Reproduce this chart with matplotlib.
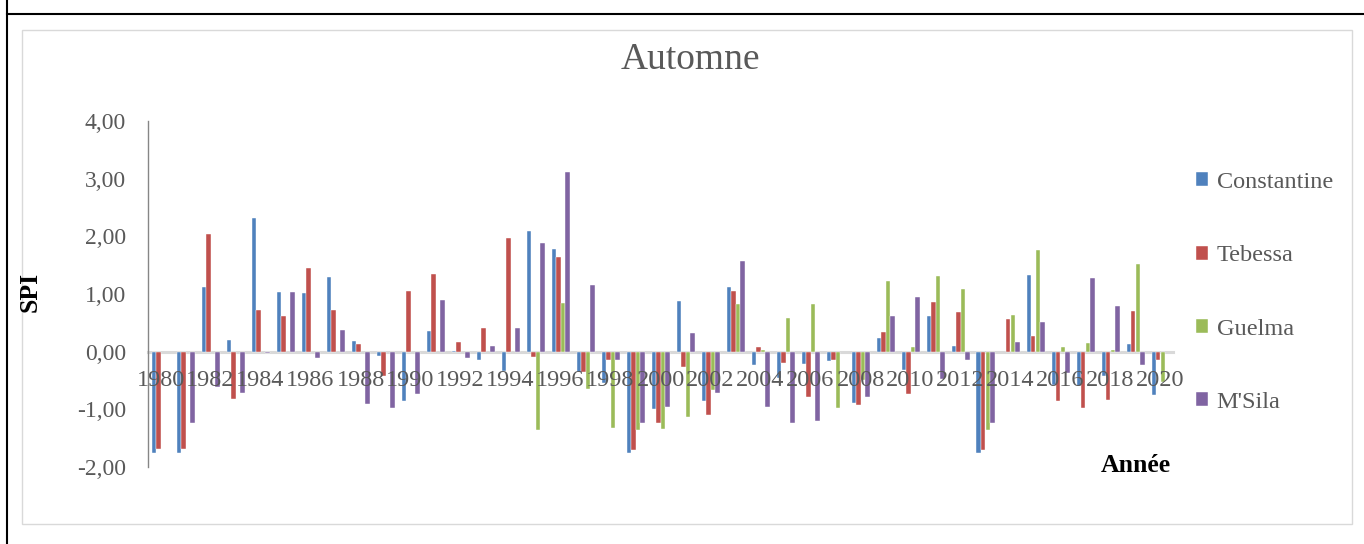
import numpy as np
import matplotlib
matplotlib.use("Agg")
import matplotlib.pyplot as plt
from matplotlib.patches import Rectangle
from matplotlib.lines import Line2D

nan = np.nan
years = list(range(1980, 2021))

constantine = [-1.75, -1.75, 1.13, 0.21, 2.32, 1.04, 1.01, 1.30, 0.19, -0.08,
               -0.85, 0.35, 0.02, -0.14, -0.34, 2.10, 1.78, -0.36, -0.54, -1.76,
               -1.00, 0.87, -0.85, 1.13, -0.23, -0.45, -0.21, -0.17, -0.89, 0.23,
               -0.32, 0.61, 0.10, -1.76, nan, 1.33, -0.57, -0.60, -0.43, 0.14,
               -0.76]
tebessa = [-1.69, -1.69, 2.04, -0.82, 0.72, 0.61, 1.45, 0.72, 0.14, -0.42,
           1.05, 1.34, 0.17, 0.41, 1.97, -0.10, 1.65, -0.36, -0.15, -1.70,
           -1.24, -0.27, -1.09, 1.06, 0.08, -0.20, -0.79, -0.15, -0.92, 0.34,
           -0.74, 0.86, 0.68, -1.70, 0.57, 0.28, -0.85, -0.98, -0.83, 0.71,
           -0.14]
guelma = [nan, nan, nan, nan, nan, nan, nan, nan, nan, nan,
          nan, nan, nan, nan, nan, -1.35, 0.85, -0.65, -1.32, -1.35,
          -1.34, -1.14, -0.66, 0.83, 0.03, 0.58, 0.83, -0.97, -0.49, 1.23,
          0.08, 1.32, 1.09, -1.36, 0.64, 1.77, 0.08, 0.15, 0.03, 1.52,
          -0.52]
msila = [nan, -1.24, -0.61, -0.71, -0.02, 1.04, -0.11, 0.38, -0.91, -0.98,
         -0.74, 0.89, -0.11, 0.09, 0.41, 1.89, 3.11, 1.15, -0.14, -1.24,
         -0.96, 0.32, -0.72, 1.58, -0.96, -1.24, -1.21, nan, -0.79, 0.62,
         0.95, -0.47, -0.14, -1.24, 0.17, 0.51, -0.37, 1.27, 0.79, -0.23,
         nan]

series_names = ["Constantine", "Tebessa", "Guelma", "M'Sila"]
series_values = [constantine, tebessa, guelma, msila]
colors = ["#4F81BD", "#C0504D", "#9BBB59", "#8064A2"]

yticks = [-2, -1, 0, 1, 2, 3, 4]

W, H = 1364, 544
fig = plt.figure(figsize=(W / 100, H / 100), dpi=100)
serif = ["Liberation Serif", "DejaVu Serif"]
gray = "#595959"

# Frame decorations
fig.add_artist(Line2D([7 / W, 1], [1 - 14 / H, 1 - 14 / H], color="black", lw=1.5, transform=fig.transFigure))
fig.add_artist(Line2D([7 / W, 7 / W], [0, 1], color="black", lw=1.5, transform=fig.transFigure))
fig.add_artist(Rectangle((22 / W, 1 - 524 / H), (1352 - 22) / W, (524 - 30) / H,
                         transform=fig.transFigure, fill=False, edgecolor="#D9D9D9", lw=1))

ax = fig.add_axes([148 / W, 1 - 467 / H, (1173 - 148) / W, (467 - 121) / H])
for s in ["top", "right"]:
    ax.spines[s].set_visible(False)
ax.spines["bottom"].set_position(("data", 0))
ax.spines["bottom"].set_color("#D9D9D9")
ax.spines["bottom"].set_linewidth(2.2)
ax.spines["bottom"].set_zorder(0.5)
ax.spines["left"].set_color("#868686")
ax.spines["left"].set_linewidth(1)

x = np.arange(len(years))
bw = 0.18
for k, (name, vals, c) in enumerate(zip(series_names, series_values, colors)):
    ax.bar(x + (k - 1.5) * bw, vals, width=bw, color=c, label=name,
           edgecolor="white", linewidth=0.3)

ax.set_xlim(-0.5, len(years) - 0.5)
ax.set_ylim(-2, 4)
ax.set_yticks(yticks)
ax.set_yticklabels([f"{v:.2f}".replace(".", ",") for v in yticks],
                   fontfamily=serif, fontsize=17, color=gray)
ax.tick_params(axis="y", length=0, pad=16)
ax.set_xticks(x[::2])
ax.set_xticklabels([str(y) for y in years[::2]], fontfamily=serif, fontsize=17.5, color=gray)
ax.tick_params(axis="x", length=0, pad=13)

fig.text(690 / W, 1 - 60 / H, "Automne", ha="center", va="center",
         fontfamily=serif, fontsize=27, color=gray)
fig.text(30 / W, 1 - 292 / H, "SPI", ha="center", va="center", rotation=90,
         fontfamily=serif, fontsize=18.5, fontweight="bold", color="black")
fig.text(1136 / W, 1 - 465 / H, "Année", ha="center", va="center",
         fontfamily=serif, fontsize=18.5, fontweight="bold", color="black")

leg = ax.legend(loc="upper left", bbox_to_anchor=(1196 / W, 1 - 172 / H),
                bbox_transform=fig.transFigure, frameon=False,
                prop={"family": serif, "size": 17.5}, labelcolor=gray,
                handlelength=0.5, handleheight=0.5, handletextpad=0.35,
                labelspacing=2.15, borderpad=0, borderaxespad=0)

fig.savefig("out.png", dpi=100)
